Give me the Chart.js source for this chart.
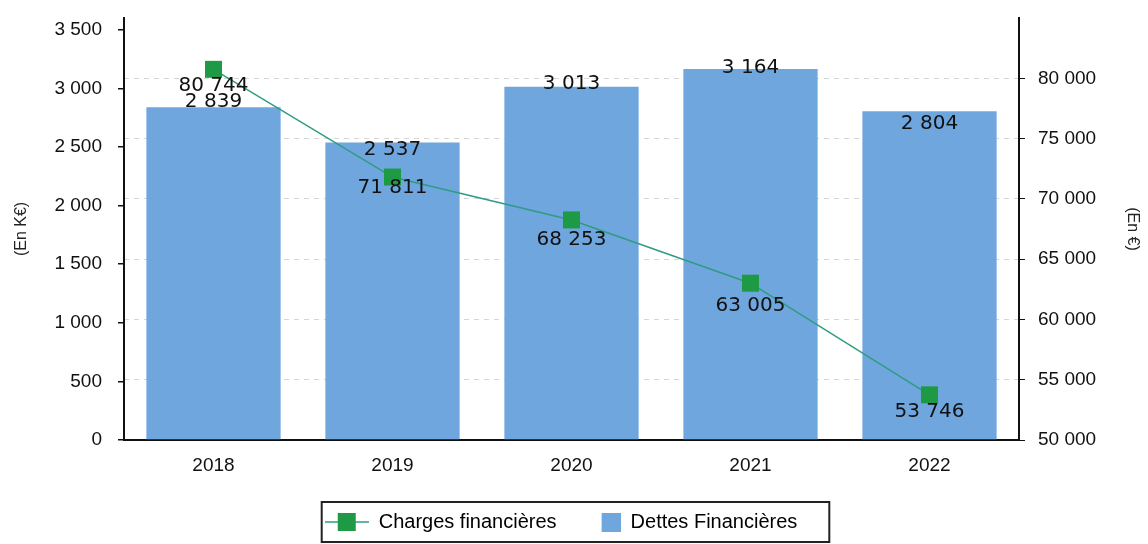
<!DOCTYPE html>
<html>
<head>
<meta charset="utf-8">
<script src="https://cdn.jsdelivr.net/npm/chart.js@4/dist/chart.umd.min.js"></script>
<style>
  html, body { margin: 0; padding: 0; background: #fff; }
  #wrap { width: 1148px; height: 544px; }
</style>
</head>
<body>
<div id="wrap"><canvas id="chart" width="1148" height="544"></canvas></div>
<script>
// Données
const annees = ["2018", "2019", "2020", "2021", "2022"];
const dettesFinancieres = [2839, 2537, 3013, 3164, 2804];      // en K€
const chargesFinancieres = [80744, 71811, 68253, 63005, 53746]; // en €
const ticksGauche = [0, 500, 1000, 1500, 2000, 2500, 3000, 3500];
const ticksDroite = [50000, 55000, 60000, 65000, 70000, 75000, 80000];

const BLEU = "#6fa6de";
const VERT = "#1f9a44";
const TRAIT = "#2e9c82";

function fmt(v) {
    return String(v).replace(/\B(?=(\d{3})+(?!\d))/g, " ");
}

// petites icônes pour la légende
function iconeLigne() {
    const c = document.createElement("canvas");
    c.width = 44; c.height = 20;
    const g = c.getContext("2d");
    g.strokeStyle = TRAIT; g.lineWidth = 1.5;
    g.beginPath(); g.moveTo(0, 10); g.lineTo(44, 10); g.stroke();
    g.fillStyle = VERT; g.fillRect(13, 1, 18, 18);
    return c;
}
function iconeBarre() {
    const c = document.createElement("canvas");
    c.width = 44; c.height = 20;
    const g = c.getContext("2d");
    g.fillStyle = BLEU; g.fillRect(25, 1, 19, 19);
    return c;
}

const etiquettes = {
    id: "etiquettes",
    afterDatasetsDraw(chart, args, opts) {
        const ctx = chart.ctx;
        ctx.save();
        ctx.font = '20px "DejaVu Sans"';
        ctx.fillStyle = "#111";
        ctx.textAlign = "center";
        ctx.textBaseline = "middle";
        chart.getDatasetMeta(1).data.forEach((bar, i) => {
            ctx.fillText(fmt(dettesFinancieres[i]), bar.x, bar.y + opts.barres[i]);
        });
        chart.getDatasetMeta(0).data.forEach((pt, i) => {
            ctx.fillText(fmt(chargesFinancieres[i]), pt.x, pt.y + opts.points[i]);
        });
        ctx.restore();
    }
};

// la légende est un peu décalée à gauche dans l'original, avec un cadre
const cadreLegende = {
    id: "cadreLegende",
    afterLayout(chart) {
        chart.legend.left -= 13;
        chart.legend.right -= 13;
    },
    afterDraw(chart) {
        const boxes = chart.legend.legendHitBoxes;
        if (!boxes || !boxes.length) return;
        const l = Math.min(...boxes.map(b => b.left)) - 3;
        const r = Math.max(...boxes.map(b => b.left + b.width)) + 32;
        const mid = boxes[0].top + boxes[0].height / 2;
        const ctx = chart.ctx;
        ctx.save();
        ctx.strokeStyle = "#222";
        ctx.lineWidth = 2;
        ctx.strokeRect(l, mid - 20, r - l, 40);
        ctx.restore();
    }
};

const tickFont = { family: "'Liberation Sans', Arial, sans-serif", size: 19 };

function axeVertical(width) {
    return function (s) {
        s.width = width;
        s.paddingTop = 0;
        s.paddingBottom = 0;
    };
}

new Chart(document.getElementById("chart"), {
    type: "bar",
    data: {
        labels: annees,
        datasets: [
            {
                type: "line",
                label: "Charges financières",
                data: chargesFinancieres,
                yAxisID: "y1",
                borderColor: TRAIT,
                borderWidth: 1.5,
                backgroundColor: VERT,
                pointStyle: "rect",
                pointRadius: 12,
                pointBorderWidth: 0,
                pointBackgroundColor: VERT,
                tension: 0,
                order: 0
            },
            {
                type: "bar",
                label: "Dettes Financières",
                data: dettesFinancieres,
                yAxisID: "y",
                backgroundColor: BLEU,
                barPercentage: 0.75,
                categoryPercentage: 1,
                order: 1
            }
        ]
    },
    options: {
        responsive: false,
        animation: false,
        layout: { padding: { top: 18, left: 0, right: 0, bottom: 2 } },
        plugins: {
            tooltip: { enabled: false },
            title: { display: false },
            legend: {
                position: "bottom",
                labels: {
                    usePointStyle: true,
                    pointStyleWidth: 44,
                    padding: 20,
                    color: "#111",
                    font: { family: "'Liberation Sans', Arial, sans-serif", size: 20 },
                    generateLabels(chart) {
                        return [
                            { text: "Charges financières", pointStyle: iconeLigne(), fillStyle: VERT, strokeStyle: VERT, lineWidth: 0, datasetIndex: 0 },
                            { text: "Dettes Financières", pointStyle: iconeBarre(), fillStyle: BLEU, strokeStyle: BLEU, lineWidth: 0, datasetIndex: 1 }
                        ];
                    }
                }
            },
            etiquettes: {
                barres: [-5, 7, -3, -1, 12],
                points: [16, 11, 20, 23, 17]
            }
        },
        scales: {
            x: {
                grid: { display: false },
                border: { color: "#111", width: 2 },
                ticks: { color: "#111", font: tickFont, padding: 6 },
                afterFit(s) { s.height = 52; }
            },
            y: {
                position: "left",
                min: 0,
                max: 3600,
                afterBuildTicks(s) { s.ticks = ticksGauche.map(v => ({ value: v })); },
                ticks: { color: "#111", font: tickFont, padding: 16, callback: v => fmt(v) },
                grid: { drawOnChartArea: false, color: "#111", tickLength: 6, lineWidth: 1.5 },
                border: { color: "#111", width: 2 },
                title: { display: true, text: "(En K€)", color: "#222", font: { family: "'Liberation Sans', Arial, sans-serif", size: 16 }, padding: { top: 12, bottom: 0 } },
                afterFit: axeVertical(124)
            },
            y1: {
                position: "right",
                min: 50000,
                max: 85000,
                afterBuildTicks(s) { s.ticks = ticksDroite.map(v => ({ value: v })); },
                ticks: { color: "#111", font: tickFont, padding: 13, callback: v => fmt(v) },
                grid: { drawOnChartArea: true, color: "#d6d6d6", tickColor: "#111", tickLength: 6, lineWidth: 1, tickBorderDash: [] },
                border: { color: "#111", width: 2, dash: [5, 5] },
                title: { display: true, text: "(En €)", color: "#222", font: { family: "'Liberation Sans', Arial, sans-serif", size: 16 }, padding: { top: 6, bottom: 0 } },
                afterFit: axeVertical(129)
            }
        }
    },
    plugins: [etiquettes, cadreLegende]
});
</script>
</body>
</html>
